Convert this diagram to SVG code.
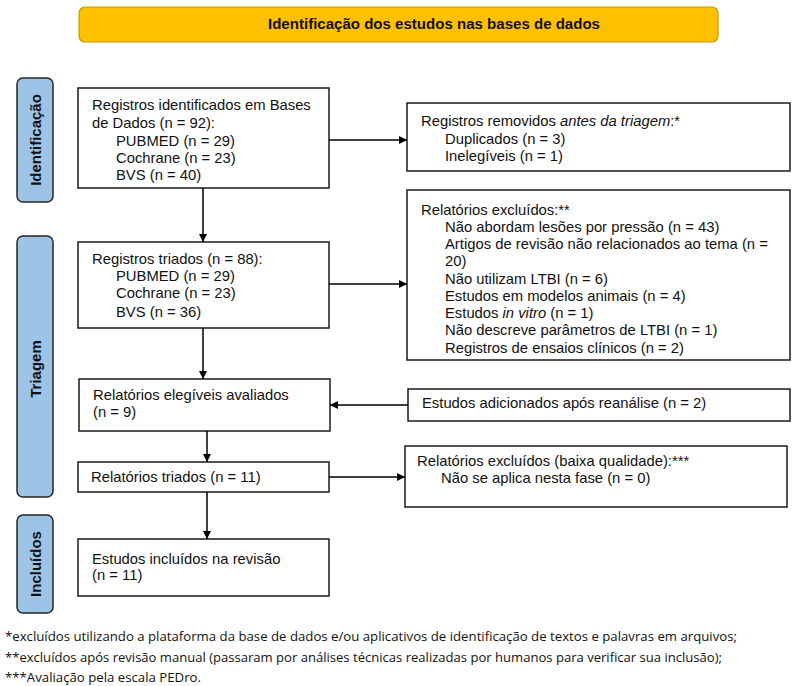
<svg xmlns="http://www.w3.org/2000/svg" width="800" height="686" viewBox="0 0 800 686">
<style>
.bg{fill:#ffffff}
.box{fill:#ffffff;stroke:#1a1a1a;stroke-width:1.5}
.side{fill:#9dc3e6;stroke:#262626;stroke-width:1.5}
.hdr{fill:#ffc000;stroke:#c49a00;stroke-width:1.2}
.t{font-family:"Liberation Sans",Arial,sans-serif;font-size:14.8px;fill:#111}
.b{font-family:"Liberation Sans",Arial,sans-serif;font-size:15px;font-weight:bold;fill:#111}
.fn{font-family:"Open Sans","Liberation Sans",sans-serif;font-size:12.5px;fill:#111}
.c{stroke:#000;stroke-width:1.5;fill:none;marker-end:url(#ah)}
</style>
<defs>
<marker id="ah" viewBox="0 0 10 10" refX="10" refY="5" markerWidth="8" markerHeight="8" markerUnits="userSpaceOnUse" orient="auto">
<path d="M0,0 L10,5 L0,10 z" fill="#000"/>
</marker>
</defs>
<rect class="bg" x="0" y="0" width="800" height="686"/>

<g id="header">
<rect class="hdr" x="79" y="7" width="639" height="35" rx="6"/>
<text class="b" x="434" y="29" text-anchor="middle" textLength="332" lengthAdjust="spacingAndGlyphs">Identificação dos estudos nas bases de dados</text>
</g>

<g id="side-identificacao">
<rect class="side" x="17" y="78" width="36" height="124" rx="6"/>
<text class="b" transform="translate(40.5,140) rotate(-90)" text-anchor="middle">Identificação</text>
</g>
<g id="side-triagem">
<rect class="side" x="17" y="236" width="36" height="261" rx="6"/>
<text class="b" transform="translate(40.5,369) rotate(-90)" text-anchor="middle">Triagem</text>
</g>
<g id="side-incluidos">
<rect class="side" x="17" y="515" width="36" height="98" rx="6"/>
<text class="b" transform="translate(40.5,564) rotate(-90)" text-anchor="middle">Incluídos</text>
</g>

<g id="n-identificados">
<rect class="box" x="78" y="88" width="251" height="100"/>
<text class="t" x="92" y="110">Registros identificados em Bases</text>
<text class="t" x="92" y="128">de Dados (n = 92):</text>
<text class="t" x="116" y="146">PUBMED (n = 29)</text>
<text class="t" x="116" y="163">Cochrane (n = 23)</text>
<text class="t" x="116" y="180">BVS (n = 40)</text>
</g>

<g id="n-removidos">
<rect class="box" x="407" y="103" width="383" height="68"/>
<text class="t" x="421" y="126">Registros removidos <tspan font-style="italic">antes da triagem</tspan>:*</text>
<text class="t" x="445" y="144">Duplicados (n = 3)</text>
<text class="t" x="445" y="161">Inelegíveis (n = 1)</text>
</g>

<g id="n-triados">
<rect class="box" x="78" y="242" width="251" height="86"/>
<text class="t" x="92" y="264">Registros triados (n = 88):</text>
<text class="t" x="116" y="281">PUBMED (n = 29)</text>
<text class="t" x="116" y="298">Cochrane (n = 23)</text>
<text class="t" x="116" y="317">BVS (n = 36)</text>
</g>

<g id="n-excluidos">
<rect class="box" x="407" y="190" width="383" height="170"/>
<text class="t" x="421" y="215">Relatórios excluídos:**</text>
<text class="t" x="445" y="232">Não abordam lesões por pressão (n = 43)</text>
<text class="t" x="445" y="249">Artigos de revisão não relacionados ao tema (n =</text>
<text class="t" x="445" y="266">20)</text>
<text class="t" x="445" y="284">Não utilizam LTBI (n = 6)</text>
<text class="t" x="445" y="301">Estudos em modelos animais (n = 4)</text>
<text class="t" x="445" y="318">Estudos <tspan font-style="italic">in vitro</tspan> (n = 1)</text>
<text class="t" x="445" y="335">Não descreve parâmetros de LTBI (n = 1)</text>
<text class="t" x="445" y="353">Registros de ensaios clínicos (n = 2)</text>
</g>

<g id="n-elegiveis">
<rect class="box" x="79" y="379" width="251" height="52"/>
<text class="t" x="93" y="400">Relatórios elegíveis avaliados</text>
<text class="t" x="93" y="417">(n = 9)</text>
</g>

<g id="n-adicionados">
<rect class="box" x="408" y="389" width="382" height="32"/>
<text class="t" x="422" y="408">Estudos adicionados após reanálise (n = 2)</text>
</g>

<g id="n-relatorios-triados">
<rect class="box" x="78" y="462" width="251" height="30"/>
<text class="t" x="91" y="482">Relatórios triados (n = 11)</text>
</g>

<g id="n-baixa">
<rect class="box" x="405" y="446" width="382" height="61"/>
<text class="t" x="417" y="466">Relatórios excluídos (baixa qualidade):***</text>
<text class="t" x="441" y="483">Não se aplica nesta fase (n = 0)</text>
</g>

<g id="n-incluidos">
<rect class="box" x="78" y="539" width="251" height="57"/>
<text class="t" x="92" y="564">Estudos incluídos na revisão</text>
<text class="t" x="92" y="580">(n = 11)</text>
</g>

<g id="connectors">
<line class="c" x1="329" y1="140" x2="407" y2="140"/>
<line class="c" x1="203" y1="188" x2="203" y2="242"/>
<line class="c" x1="329" y1="284" x2="407" y2="284"/>
<line class="c" x1="203" y1="328" x2="203" y2="379"/>
<line class="c" x1="408" y1="405" x2="330" y2="405"/>
<line class="c" x1="207" y1="431" x2="207" y2="462"/>
<line class="c" x1="329" y1="477" x2="405" y2="477"/>
<line class="c" x1="207" y1="492" x2="207" y2="539"/>
</g>

<g id="footnotes">
<text class="fn" x="5" y="641" textLength="732" lengthAdjust="spacingAndGlyphs">*excluídos utilizando a plataforma da base de dados e/ou aplicativos de identificação de textos e palavras em arquivos;</text>
<text class="fn" x="5" y="662" textLength="717" lengthAdjust="spacingAndGlyphs">**excluídos após revisão manual (passaram por análises técnicas realizadas por humanos para verificar sua inclusão);</text>
<text class="fn" x="5" y="682" textLength="196" lengthAdjust="spacingAndGlyphs">***Avaliação pela escala PEDro.</text>
</g>
</svg>
